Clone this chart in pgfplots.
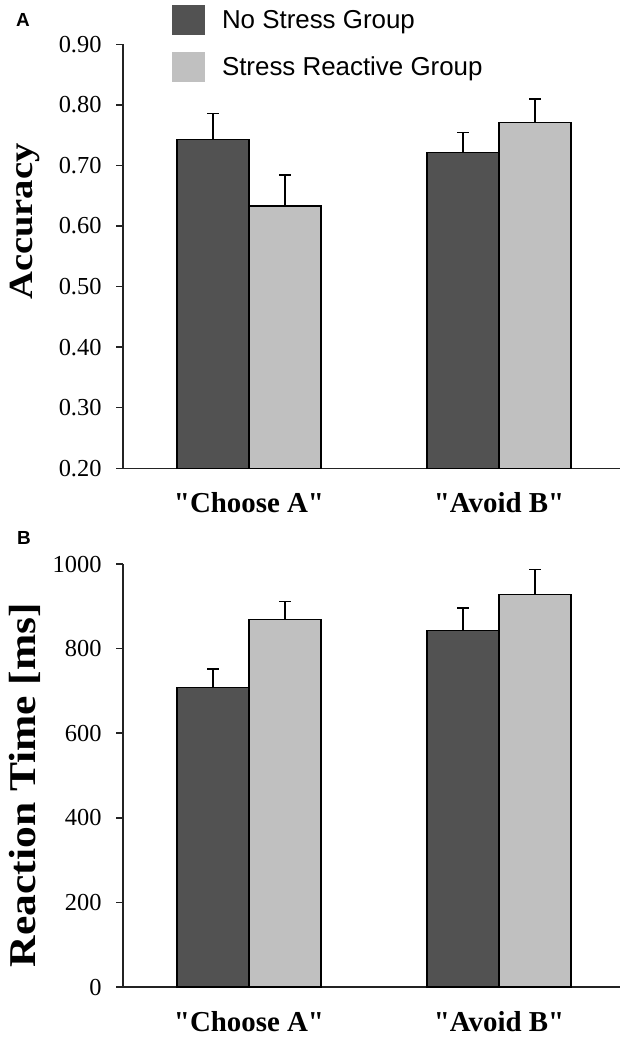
\documentclass[border=0pt]{standalone}
\usepackage{fontspec}
\setmainfont{Liberation Serif}[Ligatures=TeXOff]
\newfontfamily\legendfont{Liberation Sans}
\usepackage{graphicx}
\usepackage{pgfplots}
\pgfplotsset{compat=1.18}
\definecolor{barDark}{RGB}{82,82,82}
\definecolor{barLight}{RGB}{192,192,192}
\definecolor{axisGray}{RGB}{35,35,35}

\pgfplotsset{
  myaxis/.style={
    scale only axis, width=497bp,
    axis lines=left,
    axis line style={-, line width=1.5bp, color=axisGray},
    xmin=-0.504, xmax=1.484,
    xtick={0,1}, xticklabels={"Choose A", "Avoid B"},
    xtick style={draw=none},
    x tick label style={font=\fontsize{29}{34}\selectfont\bfseries, anchor=base, yshift=-38bp},
    ytick style={line width=1.5bp, color=axisGray},
    tick align=outside, major tick length=6.5bp,
    y tick label style={font=\fontsize{24.5}{29}\selectfont, inner xsep=14.8bp},
    /pgf/number format/assume math mode=true,
    ybar=0pt, bar width=72bp,
    every axis plot/.append style={draw=black, line width=1.2bp},
    error bars/y dir=plus, error bars/y explicit,
    error bars/error bar style={line width=1.5bp, black},
    error bars/error mark options={black, mark size=6bp, line width=1.5bp, rotate=90},
  }
}

\begin{document}
\begin{tikzpicture}
\useasboundingbox (0,0) rectangle (630bp,-1039bp);

% Panel A
\begin{axis}[myaxis,
  at={(123bp,-468.3bp)}, anchor=south west, height=424bp,
  ymin=0.2, ymax=0.9,
  ytick={0.2,0.3,0.4,0.5,0.6,0.7,0.8,0.9},
  yticklabel style={/pgf/number format/.cd, fixed, fixed zerofill, precision=2},
  ylabel={\scalebox{1.14}[1]{Accuracy}},
  ylabel style={font=\fontsize{34}{40}\selectfont\bfseries, at={(axis description cs:-0.197,0.582)}, anchor=center},
  legend style={at={(axis description cs:0.0986,1.0927)}, anchor=north west,
    draw=none, fill=none, inner sep=0pt, outer sep=0pt, row sep=17bp,
    font=\fontsize{26}{30}\selectfont\legendfont,
    cells={anchor=west}, nodes={inner sep=0pt}},
  legend image code/.code={\fill[#1, draw=none] (0bp,-15bp) rectangle (33bp,15bp); \path[draw=none, fill=none] (0bp,0bp) -- (50bp,0bp);},
]
\addplot[fill=barDark] coordinates {(0,0.743) +- (0,0.043) (1,0.721) +- (0,0.033)};
\addlegendentry{No Stress Group}
\addplot[fill=barLight] coordinates {(0,0.633) +- (0,0.051) (1,0.771) +- (0,0.039)};
\addlegendentry{Stress Reactive Group}
\end{axis}

% Panel B
\begin{axis}[myaxis,
  at={(123bp,-987bp)}, anchor=south west, height=423bp,
  ymin=0, ymax=1000,
  ytick={0,200,400,600,800,1000},
  yticklabel style={/pgf/number format/.cd, 1000 sep={}},
  ylabel={\scalebox{1.15}[1]{Reaction Time [ms]}},
  ylabel style={font=\fontsize{38}{44}\selectfont\bfseries, at={(axis description cs:-0.197,0.4775)}, anchor=center},
]
\addplot[fill=barDark] coordinates {(0,708) +- (0,44) (1,842) +- (0,54)};
\addplot[fill=barLight] coordinates {(0,868) +- (0,43) (1,928) +- (0,59)};
\end{axis}

\node[font=\fontsize{19}{22}\selectfont\legendfont\bfseries] at (23bp,-20bp) {A};
\node[font=\fontsize{19}{22}\selectfont\legendfont\bfseries] at (24bp,-538bp) {B};
\end{tikzpicture}
\end{document}
